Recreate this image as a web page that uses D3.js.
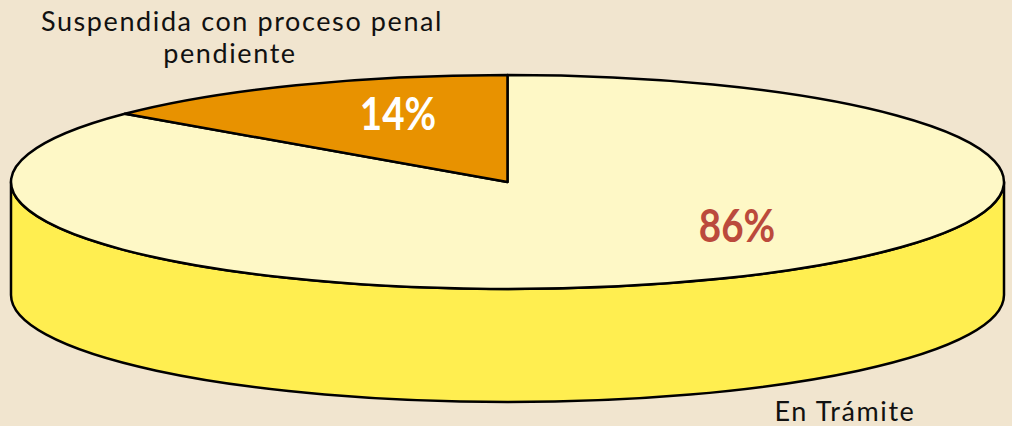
<!DOCTYPE html>
<html>
<head>
<meta charset="utf-8">
<script src="https://cdn.jsdelivr.net/npm/d3@7"></script>
<style>
  html, body { margin: 0; padding: 0; background: #f1e5cf; }
  svg { display: block; }
</style>
</head>
<body>
<script>
// data
const categories = ["En Trámite", "Suspendida con proceso penal pendiente"];
const values = [86, 14];
const pctLabels = ["86%", "14%"];

const W = 1012, H = 426;
const cx = 507.5, cy = 182, rx = 496.5, ry = 107, depth = 113;
const topColors = ["#fef8c6", "#e89200"];
const sideColors = ["#ffee50", "#c07800"];
const pctColors = ["#bb4a3c", "#ffffff"];

const svg = d3.select("body").append("svg")
    .attr("width", W)
    .attr("height", H);

const pie = d3.pie().sort(null).value(d => d);
const arcs = pie(values);

// angle -> point on the top ellipse (0 = 12 o'clock, clockwise)
function pt(a, dy) {
    return [cx + rx * Math.sin(a), cy - ry * Math.cos(a) + (dy || 0)];
}

//--------------------------SIDE--------------------------//
arcs.forEach((d, i) => {
    const s0 = Math.max(d.startAngle, Math.PI / 2);
    const s1 = Math.min(d.endAngle, 3 * Math.PI / 2);
    if (s1 <= s0) return;
    const a = pt(s0), b = pt(s1), b2 = pt(s1, depth), a2 = pt(s0, depth);
    const large = (s1 - s0) > Math.PI ? 1 : 0;
    const p = "M" + a + " A" + rx + " " + ry + " 0 " + large + " 1 " + b +
        " L" + b2 + " A" + rx + " " + ry + " 0 " + large + " 0 " + a2 + " Z";
    svg.append("path")
        .attr("d", p)
        .attr("fill", sideColors[i])
        .attr("stroke", "#000")
        .attr("stroke-width", 2.5)
        .attr("stroke-linejoin", "round");
});

//---------------------------TOP--------------------------//
arcs.forEach((d, i) => {
    const a = pt(d.startAngle), b = pt(d.endAngle);
    const large = (d.endAngle - d.startAngle) > Math.PI ? 1 : 0;
    const p = "M" + cx + "," + cy + " L" + a + " A" + rx + " " + ry + " 0 " + large + " 1 " + b + " Z";
    svg.append("path")
        .attr("d", p)
        .attr("fill", topColors[i])
        .attr("stroke", "#000")
        .attr("stroke-width", 2.5)
        .attr("stroke-linejoin", "round");
});

//-------------------------LABELS-------------------------//
const pctPos = [[737, 242], [398, 130]];
arcs.forEach((d, i) => {
    svg.append("text")
        .attr("transform", "translate(" + pctPos[i] + ") scale(0.84,1)")
        .attr("text-anchor", "middle")
        .style("font-family", "Lato, 'Open Sans', sans-serif")
        .style("font-weight", "bold")
        .style("font-size", "46px")
        .attr("fill", pctColors[i])
        .text(pctLabels[i]);
});

const catStyle = sel => sel
    .attr("text-anchor", "middle")
    .style("font-family", "Lato, 'Open Sans', sans-serif")
    .style("font-size", "27px")
    .style("letter-spacing", "1.6px")
    .attr("fill", "#111");

svg.append("text").call(catStyle)
    .attr("x", 242).attr("y", 31)
    .text("Suspendida con proceso penal");
svg.append("text").call(catStyle)
    .attr("x", 230).attr("y", 63)
    .text("pendiente");
svg.append("text").call(catStyle)
    .attr("x", 845).attr("y", 421)
    .text(categories[0]);
</script>
</body>
</html>
